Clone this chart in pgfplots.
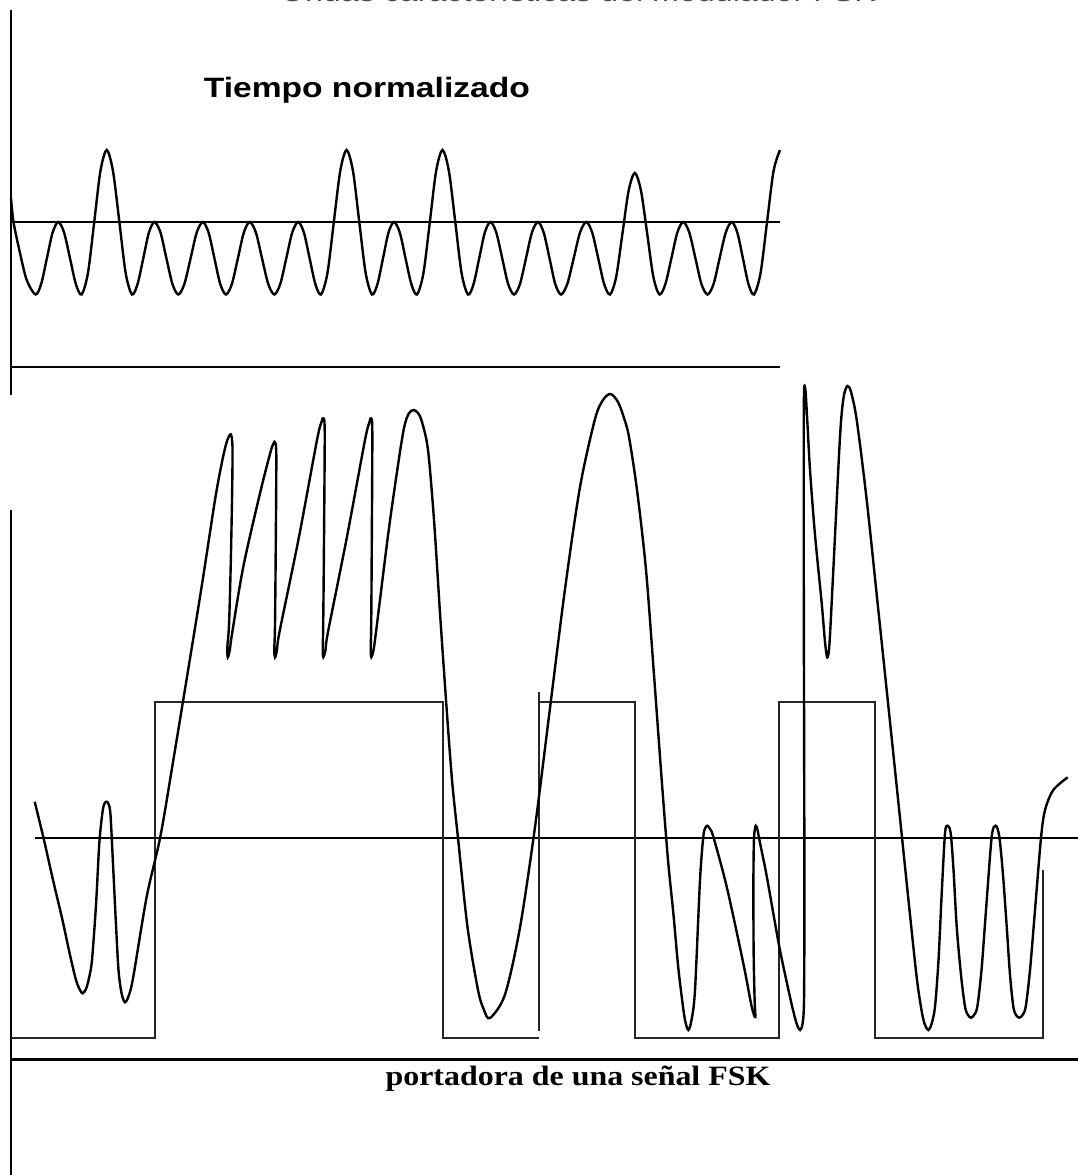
\documentclass[border=0pt]{standalone}
\usepackage{pgfplots}
\pgfplotsset{compat=1.18}
\usepackage{fontspec}
\newfontfamily\arialfont{Liberation Sans}
\newfontfamily\timesfont{Liberation Serif}
\begin{document}
\begin{tikzpicture}
\begin{axis}[
  width=269.5pt, height=293.75pt, scale only axis,
  xmin=0, xmax=1078, ymin=0, ymax=1175, y dir=reverse,
  hide axis, clip=false,
]
% frame lines
\addplot[black, line width=0.5pt] coordinates {(10.5,10) (10.5,395)};
\addplot[black, line width=0.5pt] coordinates {(10.5,510) (10.5,1175)};
\addplot[black, line width=0.7pt] coordinates {(11,222) (780,222)};
\addplot[black, line width=0.7pt] coordinates {(11,367) (780,367)};
\addplot[black, line width=0.7pt] coordinates {(34.5,838) (1078,838)};
\addplot[black, line width=0.7pt] coordinates {(10.5,1059.5) (1078,1059.5)};
% top wave
\addplot[black, line width=0.6pt, smooth] coordinates {
(11,198) (13.5,222) (20,253) (26.7,280) (35.5,294.5)
(41.2,283.9) (46.9,258.25) (52.6,232.6) (58.3,222)
(64.1,232.6) (70.0,258.25) (75.8,283.9) (81.6,294.5)
(87.9,273.3) (94.2,222.25) (100.4,171.2) (106.7,150)
(113.0,171.2) (119.4,222.25) (125.7,273.3) (132,294.5)
(137.6,283.9) (143.3,258.25) (148.9,232.6) (154.5,222)
(160.5,232.6) (166.4,258.25) (172.4,283.9) (178.3,294.5)
(184.4,283.9) (190.6,258.25) (196.7,232.6) (202.8,222)
(208.6,232.6) (214.4,258.25) (220.2,283.9) (226,294.5)
(231.9,283.9) (237.9,258.25) (243.8,232.6) (249.7,222)
(255.9,232.6) (262.0,258.25) (268.2,283.9) (274.3,294.5)
(280.3,283.9) (286.3,258.25) (292.2,232.6) (298.2,222)
(303.9,232.6) (309.6,258.25) (315.3,283.9) (321,294.5)
(327.4,273.3) (333.8,222.25) (340.2,171.2) (346.6,150)
(353.0,171.2) (359.3,222.25) (365.7,273.3) (372,294.5)
(377.5,283.9) (383,258.25) (388.5,232.6) (394,222)
(399.8,232.6) (405.5,258.25) (411.3,283.9) (417,294.5)
(423.4,273.3) (429.8,222.25) (436.1,171.2) (442.5,150)
(448.9,171.2) (455.3,222.25) (461.6,273.3) (468,294.5)
(473.6,283.9) (479.2,258.25) (484.8,232.6) (490.4,222)
(496.3,232.6) (502.2,258.25) (508.1,283.9) (514,294.5)
(520.0,283.9) (526.0,258.25) (531.9,232.6) (537.9,222)
(543.7,232.6) (549.5,258.25) (555.2,283.9) (561,294.5)
(567.3,283.9) (573.7,258.25) (580.0,232.6) (586.3,222)
(592.2,232.6) (598.2,258.25) (604.1,283.9) (610,294.5)
(616.2,276.7) (622.4,233.75) (628.6,190.8) (634.8,173)
(641.0,190.8) (647.2,233.75) (653.3,276.7) (659.5,294.5)
(665.4,283.9) (671.4,258.25) (677.3,232.6) (683.2,222)
(689.3,232.6) (695.4,258.25) (701.4,283.9) (707.5,294.5)
(713.6,283.9) (719.6,258.25) (725.7,232.6) (731.7,222)
(737.3,232.6) (742.9,258.25) (748.4,283.9) (754,294.5)
(760.5,273.3) (767,222.25) (773.5,171.2) (780,150)
};
% square wave
\addplot[black!85, line width=0.5pt] coordinates {(10.5,1038.3) (154.7,1038.3) (154.7,702) (442.8,702) (442.8,1038.3) (539,1038.3)};
\addplot[black!85, line width=0.5pt] coordinates {(539,1031) (539,692)};
\addplot[black!85, line width=0.5pt] coordinates {(539,702) (634.6,702) (634.6,1038.3) (779.3,1038.3) (779.3,702) (875,702) (875,1038.3) (1043.3,1038.3) (1043.3,870)};
% FSK wave
\addplot[black, line width=0.6pt, smooth] coordinates {
(34.7,801.7) (44,840) (53,880) (62,918) (70,955) (76,980) (80,990) (82.7,993.3) (86,989) (89,978) (92,960)
(96,905) (99.3,843.3) (102.5,812) (104.5,803.5) (106.7,801.7) (108.5,804) (110.5,815) (113.3,870) (116,925) (118.5,970) (121.5,993) (125,1002.3) (129,995) (133.3,976.7) (146.7,896.7) (160,838.3) (171.7,770) (200,597) (215,500) (222,462) (226.7,442) (230.7,434.3)
(232.5,448) (232,500) (230.6,570) (229,625) (227.3,648) (227.8,657.3) (229.8,650) (232,634)
(243.3,566.7) (260,493.3) (270.5,452) (273.5,443.5) (275,442.3)
(276.3,455) (275.8,540) (275,625) (274.3,650) (275,657.3) (277,650) (279.5,632)
(298.8,537.8) (317,440) (321.5,422) (323.3,418.3)
(324.7,432) (324,540) (323.2,625) (322.7,650) (323.4,657) (325.5,650) (328,632)
(346.8,537.7) (365,440) (369.5,422) (371,418.3)
(372.3,432) (371.8,540) (371.2,625) (370.7,650) (371.4,657) (373.5,650) (376,632)
(388.3,533.3) (398,465) (404,428) (408.5,414) (413.3,410) (418,413) (422,422) (428,450) (434,520) (440,613) (446,700) (452,780) (458,838) (467.5,927) (478,990) (484,1010) (490,1018)
(505,994.5) (520,927.4) (535,827) (550,708) (565,589) (580,487) (595,419) (603,400) (610.5,394)
(618,402) (624,418) (629,437) (637,490) (646,570) (654,675) (661.7,780) (668,860) (673.3,913) (678,965) (681.7,996.7) (685,1020) (688.3,1030) (691.5,1020) (695,990) (700,880) (703.3,836.7) (705.3,828) (707.3,825.7) (710,829) (713.3,836.7) (726.7,886.7) (743.3,963.3) (751.7,1006.7) (755.3,1017)
(754.6,1000) (753.6,950) (753.4,880) (754,838) (755.7,825.7) (757.5,830) (760,843) (766.5,875) (779.3,946.7) (790,997) (795,1018) (797.5,1026) (800,1030) (802.5,1024) (804,1000)
(804.4,900) (804.2,780) (803.8,600) (803.7,450) (803.9,400) (804.3,386) (805.5,391) (806.7,410) (810,470) (815,535) (821.7,603.3) (825,642) (827.3,657.3) (829.5,643) (833.3,570) (840,436.7) (843.5,398) (847.3,386) (851,392) (856.7,420) (866.7,500) (878.3,610) (890,722) (900.7,825) (910,915) (917,980) (922,1013) (925,1025) (928.3,1030) (931.5,1024) (935,1006.7) (938.5,960) (941.7,893.3) (945,833.3) (947.7,825.7) (950.7,833.3) (953.5,870) (956.7,926.7) (961,975) (965,1006.7) (968,1015) (971,1017.7) (974,1015) (977.3,1006.7) (981.5,970) (986,910) (991.7,836.7) (995.7,825.7) (999.3,836.7) (1003,875) (1006.7,926.7) (1010,975) (1013.3,1006.7) (1016,1015) (1019.3,1017.7) (1022.5,1015) (1025.7,1006.7) (1030,970) (1035,910) (1041,837.7) (1045,810) (1053.3,790) (1067.7,777.3)
};
% texts
\node[anchor=base, inner sep=0pt, text=black!70] at (axis cs:578,2) {\arialfont\fontsize{7}{8}\selectfont\scalebox{1.15}[1]{Ondas características del modulador FSK}};
\node[anchor=base west, inner sep=0pt] at (axis cs:203,98) {\arialfont\bfseries\fontsize{7}{8}\selectfont\scalebox{1.2}[1]{Tiempo normalizado}};
\node[anchor=base, inner sep=0pt] at (axis cs:578,1085) {\timesfont\bfseries\fontsize{7}{8}\selectfont\scalebox{1.14}[1]{portadora de una señal FSK}};
\coordinate (BL) at (axis cs:0,1175);
\coordinate (TR) at (axis cs:1078,0);
\end{axis}
\pgfresetboundingbox
\path[use as bounding box] (BL) rectangle (TR);
\end{tikzpicture}
\end{document}
